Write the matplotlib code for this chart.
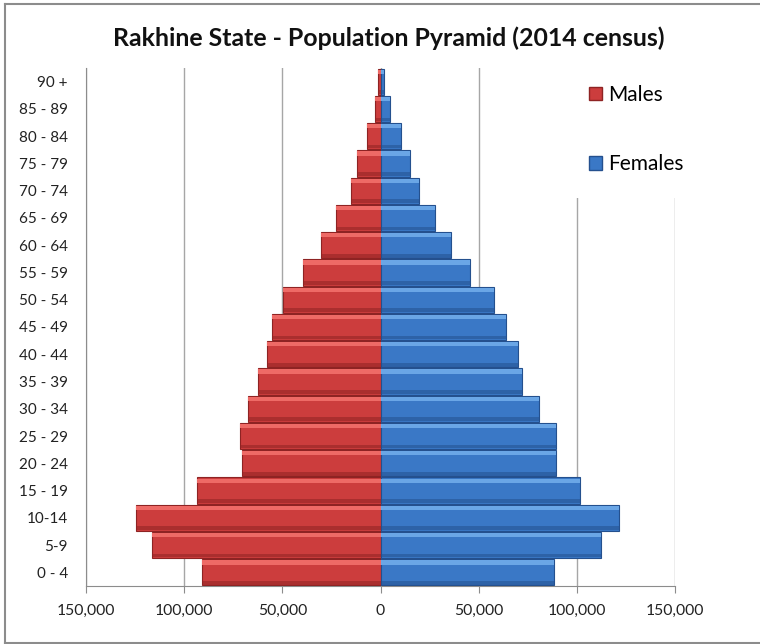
import matplotlib
matplotlib.use('Agg')

import matplotlib.pyplot as plt
from matplotlib.patches import Rectangle
from matplotlib.lines import Line2D
from matplotlib.ticker import FuncFormatter
import numpy as np

plt.rcParams['font.family'] = ['Lato', 'DejaVu Sans']

# ---- data ----
age_groups = ["0 - 4", "5-9", "10-14", "15 - 19", "20 - 24", "25 - 29", "30 - 34",
              "35 - 39", "40 - 44", "45 - 49", "50 - 54", "55 - 59", "60 - 64",
              "65 - 69", "70 - 74", "75 - 79", "80 - 84", "85 - 89", "90 +"]
males = [91000, 116500, 124300, 93600, 70500, 71400, 67700, 62600, 57800, 55300,
         49500, 39700, 30500, 22700, 15100, 11900, 7000, 2700, 1200]
females = [88500, 112400, 121400, 101400, 89500, 89200, 80900, 72200, 69800, 63700,
           57600, 45400, 36100, 27600, 19500, 15100, 10300, 4700, 2000]
x_ticks = [-150000, -100000, -50000, 0, 50000, 100000, 150000]

RED = "#cc3d3d"
RED_HI = "#ee6a66"
RED_DK = "#8e2323"
BLUE = "#3a78c6"
BLUE_HI = "#6aa6e6"
BLUE_DK = "#24508e"

fig = plt.figure(figsize=(7.6, 6.44), dpi=100)
ax = fig.add_axes([86 / 760, 1 - 586 / 644, 589 / 760, 518 / 644])

y = np.arange(len(age_groups))
h = 0.96
m = -np.array(males)
f = np.array(females)


def bevel_bars(vals, base, hi, dk):
    # body + dark lower shade + light upper strip (fake 3D look)
    ax.barh(y, vals, height=h, color=base, edgecolor=dk, linewidth=0.8, zorder=3)
    ax.barh(y - h * 0.40, vals, height=h * 0.14, color=dk, alpha=0.55,
            linewidth=0, zorder=4)
    ax.barh(y + h * 0.38, vals, height=h * 0.16, color=hi, linewidth=0, zorder=4)


bevel_bars(m, RED, RED_HI, RED_DK)
bevel_bars(f, BLUE, BLUE_HI, BLUE_DK)

ax.set_xlim(-150000, 150000)
ax.set_ylim(-0.5, len(age_groups) - 0.5)
ax.set_yticks(y)
ax.set_yticklabels(age_groups, fontsize=11, color="#222222")
ax.set_xticks(x_ticks)
ax.xaxis.set_major_formatter(FuncFormatter(lambda v, p: f"{abs(int(v)):,}"))
ax.tick_params(axis='x', labelsize=11.3, colors="#222222", length=5,
               color="#8c8c8c", pad=8)
ax.tick_params(axis='y', length=0, pad=13)

ax.grid(axis='x', color="#a6a6a6", linewidth=1, zorder=1)
ax.set_axisbelow(True)
for s in ['top', 'right']:
    ax.spines[s].set_visible(False)
ax.spines['left'].set_color("#8c8c8c")
ax.spines['bottom'].set_color("#8c8c8c")

# white legend area hiding the gridlines
ax.add_patch(Rectangle((0.83, 0.749), 0.2, 0.26, transform=ax.transAxes,
                       facecolor="white", edgecolor="none", zorder=2,
                       clip_on=False))

handles = [Rectangle((0, 0), 1, 1, facecolor=RED, edgecolor=RED_DK),
           Rectangle((0, 0), 1, 1, facecolor=BLUE, edgecolor=BLUE_DK)]
leg = ax.legend(handles, ["Males", "Females"], loc='upper left',
                bbox_to_anchor=(0.822, 1.004), frameon=False, fontsize=15,
                handlelength=0.62, handleheight=0.62, handletextpad=0.3,
                labelspacing=2.39)
leg.set_zorder(5)

fig.text(389 / 760, 1 - 38 / 644, "Rakhine State - Population Pyramid (2014 census)",
         ha='center', va='center', fontsize=17.9, fontweight='bold', color="#111111")

# chart border
for xs, ys in [((5, 760), (4, 4)), ((5, 5), (4, 643)), ((5, 760), (643, 643))]:
    fig.add_artist(Line2D([v / 760 for v in xs], [1 - v / 644 for v in ys],
                          color="#8c8c8c", linewidth=1.5))

fig.savefig("out.png", dpi=100)
